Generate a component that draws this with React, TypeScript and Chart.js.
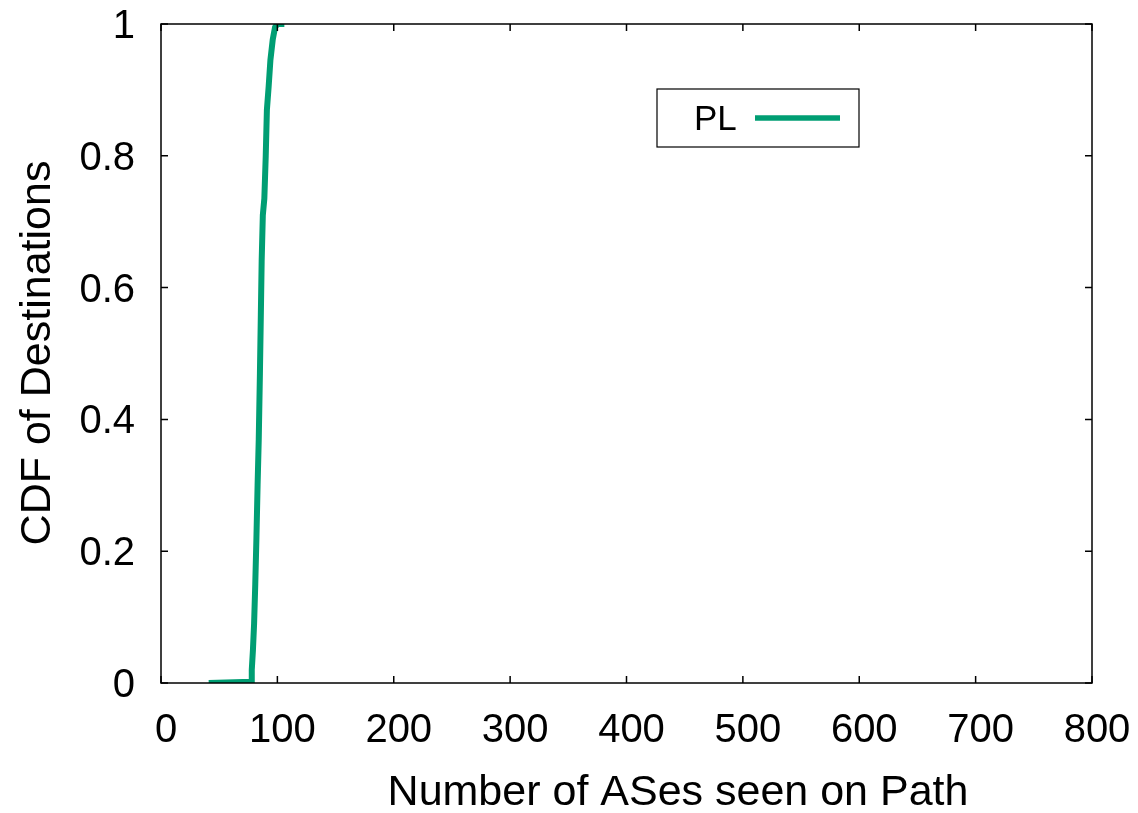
import React, { useEffect, useRef } from "react";
import { Chart, registerables } from "chart.js";

Chart.register(...registerables);

// Data (CDF of destinations vs number of ASes)
const asCounts: number[] = [41, 77.5, 78, 79, 80, 81, 82, 83, 84, 85, 85.8, 86.5, 87.5, 88.8, 90, 91, 92.5, 94, 96, 98, 100, 106];
const cdfValues: number[] = [0, 0.002, 0.02, 0.05, 0.09, 0.15, 0.22, 0.3, 0.37, 0.47, 0.56, 0.64, 0.71, 0.735, 0.8, 0.87, 0.905, 0.945, 0.976, 0.995, 1.0, 1.0];

const xTickValues: number[] = [0, 100, 200, 300, 400, 500, 600, 700, 800];
const xTickLabels: string[] = ["0", "100", "200", "300", "400", "500", "600", "700", "800"];
const yTickValues: number[] = [0, 0.2, 0.4, 0.6, 0.8, 1];
const yTickLabels: string[] = ["0", "0.2", "0.4", "0.6", "0.8", "1"];

const seriesLabel = "PL";
const xTitle = "Number of ASes seen on Path";
const yTitle = "CDF of Destinations";

const GREEN = "#009e73";
const FONT = '"Liberation Sans", Arial, Helvetica, sans-serif';

const framePlugin = {
  id: "gnuplotFrame",
  afterDatasetsDraw(chart: any) {
    const ctx = chart.ctx as CanvasRenderingContext2D;
    const { left, right, top, bottom } = chart.chartArea;
    const xs = chart.scales.x;
    const ys = chart.scales.y;
    ctx.save();
    ctx.strokeStyle = "#000";
    ctx.lineWidth = 1.5;
    ctx.strokeRect(left, top, right - left, bottom - top);
    const tl = 7;
    ctx.beginPath();
    xTickValues.forEach((v) => {
      const px = xs.getPixelForValue(v);
      ctx.moveTo(px, bottom);
      ctx.lineTo(px, bottom - tl);
      ctx.moveTo(px, top);
      ctx.lineTo(px, top + tl);
    });
    yTickValues.forEach((v) => {
      const py = ys.getPixelForValue(v);
      ctx.moveTo(left, py);
      ctx.lineTo(left + tl, py);
      ctx.moveTo(right, py);
      ctx.lineTo(right - tl, py);
    });
    ctx.stroke();

    // tick labels
    ctx.fillStyle = "#000";
    ctx.font = `40px ${FONT}`;
    ctx.textBaseline = "alphabetic";
    ctx.textAlign = "center";
    xTickValues.forEach((v, i) => {
      ctx.fillText(xTickLabels[i], xs.getPixelForValue(v) + 5, 742);
    });
    ctx.textAlign = "right";
    yTickValues.forEach((v, i) => {
      ctx.fillText(yTickLabels[i], 135, ys.getPixelForValue(v) + 14);
    });

    // axis titles
    ctx.font = `43px ${FONT}`;
    ctx.textAlign = "center";
    ctx.fillText(xTitle, 678, 805);
    ctx.save();
    ctx.translate(35, 353);
    ctx.rotate(-Math.PI / 2);
    ctx.fillText(yTitle, 0, 15);
    ctx.restore();

    // legend
    ctx.lineWidth = 1.2;
    ctx.strokeStyle = "#000";
    ctx.strokeRect(657, 89, 202, 58);
    ctx.font = `35px ${FONT}`;
    ctx.textAlign = "left";
    ctx.fillText(seriesLabel, 694, 130);
    ctx.strokeStyle = GREEN;
    ctx.lineWidth = 5.5;
    ctx.beginPath();
    ctx.moveTo(755, 118);
    ctx.lineTo(840, 118);
    ctx.stroke();
    ctx.restore();
  },
};

export default function App() {
  const canvasRef = useRef<HTMLCanvasElement | null>(null);

  useEffect(() => {
    if (!canvasRef.current) return;
    const points = asCounts.map((x, i) => ({ x, y: cdfValues[i] }));
    const chart = new Chart(canvasRef.current, {
      type: "line",
      data: {
        datasets: [
          {
            label: seriesLabel,
            data: points,
            borderColor: GREEN,
            backgroundColor: GREEN,
            borderWidth: 6,
            pointRadius: 0,
            tension: 0,
            fill: false,
          },
        ],
      },
      options: {
        animation: false,
        responsive: false,
        devicePixelRatio: 1,
        layout: { padding: { left: 0, right: 46, top: 24, bottom: 0 } },
        plugins: {
          legend: { display: false },
          tooltip: { enabled: false },
          title: { display: false },
        },
        scales: {
          x: {
            type: "linear",
            min: 0,
            max: 800,
            grid: { display: false, drawTicks: false },
            border: { display: false },
            ticks: { display: false, stepSize: 100 },
            afterFit: (s: any) => {
              s.height = 130;
            },
          },
          y: {
            type: "linear",
            min: 0,
            max: 1,
            grid: { display: false, drawTicks: false },
            border: { display: false },
            ticks: { display: false, stepSize: 0.2 },
            afterFit: (s: any) => {
              s.width = 161;
            },
          },
        },
      },
      plugins: [framePlugin],
    });
    return () => chart.destroy();
  }, []);

  return (
    <div style={{ position: "fixed", left: 0, top: 0, width: 1138, height: 813, background: "#fff" }}>
      <canvas ref={canvasRef} width={1138} height={813} style={{ display: "block" }} />
    </div>
  );
}
